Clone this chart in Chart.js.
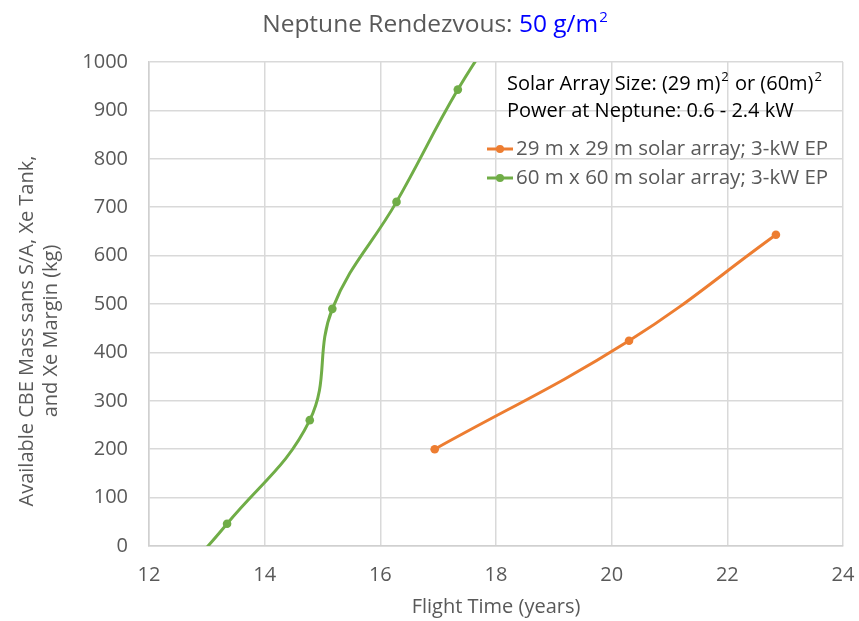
<!DOCTYPE html>
<html>
<head>
<meta charset="utf-8">
<script src="https://cdn.jsdelivr.net/npm/chart.js@4"></script>
<style>
  html, body { margin: 0; padding: 0; background: #ffffff; }
</style>
</head>
<body>
<canvas id="chart" width="859" height="621"></canvas>
<script>
// Flight time (years) vs. available CBE mass (kg) for each array size
const flightTime29 = [16.94, 20.30, 22.84];
const mass29 = [200, 424, 643];
// the 60 m series runs past both ends of the plotted range
const flightTime60 = [12.5, 13.35, 14.78, 15.17, 16.28, 17.34, 18.3];
const mass60 = [-70, 46, 260, 490, 711, 943, 1120];

const seriesNames = [
  '29 m x 29 m solar array; 3-kW EP',
  '60 m x 60 m solar array; 3-kW EP'
];
const seriesColors = ['#ED7D31', '#70AD47'];

const xTickValues = [12, 14, 16, 18, 20, 22, 24];
const yTickValues = [0, 100, 200, 300, 400, 500, 600, 700, 800, 900, 1000];

const titleMain = 'Neptune Rendezvous: ';
const titleValue = '50 g/m';
const titleSup = '2';
const xTitle = 'Flight Time (years)';
const yTitleLines = ['Available CBE Mass sans S/A, Xe Tank,', 'and Xe Margin (kg)'];
// note lines: plain text runs and superscripts
const noteLines = [
  [{ t: 'Solar Array Size: (29 m)' }, { s: '2' }, { t: ' or (60m)' }, { s: '2' }],
  [{ t: 'Power at Neptune: 0.6 - 2.4 kW' }]
];

const FONT = '"Open Sans", sans-serif';
const GREY = '#595959';

const toPoints = (xs, ys) => xs.map((x, i) => ({ x, y: ys[i] }));

const decorations = {
  id: 'decorations',
  afterDraw(chart) {
    const ctx = chart.ctx;
    const area = chart.chartArea;
    ctx.save();

    // chart title: grey label, blue value with superscript
    const tFont = 24.5, tSup = 15;
    ctx.textBaseline = 'alphabetic';
    ctx.font = `${tFont}px ${FONT}`;
    const wA = ctx.measureText(titleMain).width;
    const wB = ctx.measureText(titleValue).width;
    ctx.font = `${tSup}px ${FONT}`;
    const wS = ctx.measureText(titleSup).width;
    let tx = chart.width / 2 + 5 - (wA + wB + wS) / 2;
    const ty = 32;
    ctx.font = `${tFont}px ${FONT}`;
    ctx.fillStyle = GREY;
    ctx.fillText(titleMain, tx, ty);
    tx += wA;
    ctx.fillStyle = '#0000FF';
    ctx.fillText(titleValue, tx, ty);
    tx += wB;
    ctx.font = `${tSup}px ${FONT}`;
    ctx.fillText(titleSup, tx + 1, ty - 10);

    // y axis title, two rotated lines
    ctx.fillStyle = GREY;
    ctx.font = `20px ${FONT}`;
    ctx.textAlign = 'center';
    ctx.textBaseline = 'middle';
    yTitleLines.forEach((line, i) => {
      ctx.save();
      ctx.translate(27 + i * 24, 331);
      ctx.rotate(-Math.PI / 2);
      ctx.fillText(line, 0, 0);
      ctx.restore();
    });

    // note block inside the plot area
    const nx = area.right - 336;
    ctx.textAlign = 'left';
    ctx.textBaseline = 'alphabetic';
    ctx.fillStyle = '#000000';
    noteLines.forEach((parts, i) => {
      let x = nx;
      const y = area.top + 28 + i * 27;
      parts.forEach(p => {
        if (p.t !== undefined) {
          ctx.font = `20px ${FONT}`;
          ctx.fillText(p.t, x, y);
          x += ctx.measureText(p.t).width;
        } else {
          ctx.font = `13px ${FONT}`;
          ctx.fillText(p.s, x + 1, y - 9);
          x += ctx.measureText(p.s).width + 2;
        }
      });
    });

    // legend entries: line with marker, then label
    chart.data.datasets.forEach((ds, i) => {
      const cy = area.top + 87 + i * 29;
      const lx = area.right - 356;
      ctx.strokeStyle = ds.borderColor;
      ctx.lineWidth = 3;
      ctx.beginPath();
      ctx.moveTo(lx, cy);
      ctx.lineTo(lx + 26, cy);
      ctx.stroke();
      ctx.fillStyle = ds.backgroundColor;
      ctx.beginPath();
      ctx.arc(lx + 13, cy, 4, 0, Math.PI * 2);
      ctx.fill();
      ctx.fillStyle = GREY;
      ctx.font = `20.5px ${FONT}`;
      ctx.textBaseline = 'middle';
      ctx.fillText(ds.label, lx + 29, cy);
    });

    ctx.restore();
  }
};

const seriesStyle = color => ({
  borderColor: color,
  backgroundColor: color,
  showLine: true,
  tension: 0.4,
  borderWidth: 3,
  pointRadius: 4.3,
  pointHoverRadius: 4.3,
  pointBorderWidth: 0
});

new Chart(document.getElementById('chart'), {
  type: 'scatter',
  data: {
    datasets: [
      { label: seriesNames[0], data: toPoints(flightTime29, mass29), ...seriesStyle(seriesColors[0]) },
      { label: seriesNames[1], data: toPoints(flightTime60, mass60), ...seriesStyle(seriesColors[1]) }
    ]
  },
  options: {
    responsive: false,
    animation: false,
    devicePixelRatio: 1,
    layout: { padding: { top: 62, right: 0, bottom: 0, left: 0 } },
    plugins: {
      legend: { display: false },
      title: { display: false },
      tooltip: { enabled: false }
    },
    scales: {
      x: {
        type: 'linear',
        min: 12,
        max: 24,
        afterBuildTicks(scale) { scale.ticks = xTickValues.map(v => ({ value: v })); },
        afterFit(scale) {
          scale.height = 75;
          scale.paddingLeft = 0;
          scale.paddingRight = 16;
        },
        ticks: { color: GREY, font: { family: FONT, size: 20 }, padding: 17, callback: v => String(v) },
        grid: { color: '#d9d9d9', lineWidth: 1.5, drawTicks: false },
        border: { color: '#d0d0d0', width: 1.5 },
        title: {
          display: true,
          text: xTitle,
          color: GREY,
          font: { family: FONT, size: 20 },
          padding: { top: 0, bottom: 2 }
        }
      },
      y: {
        type: 'linear',
        min: 0,
        max: 1000,
        afterBuildTicks(scale) { scale.ticks = yTickValues.map(v => ({ value: v })); },
        afterFit(scale) { scale.width = 149; },
        ticks: { color: GREY, font: { family: FONT, size: 20 }, padding: 21, callback: v => String(v) },
        grid: { color: '#d9d9d9', lineWidth: 1.5, drawTicks: false },
        border: { color: '#d0d0d0', width: 1.5 }
      }
    }
  },
  plugins: [decorations]
});
</script>
</body>
</html>
